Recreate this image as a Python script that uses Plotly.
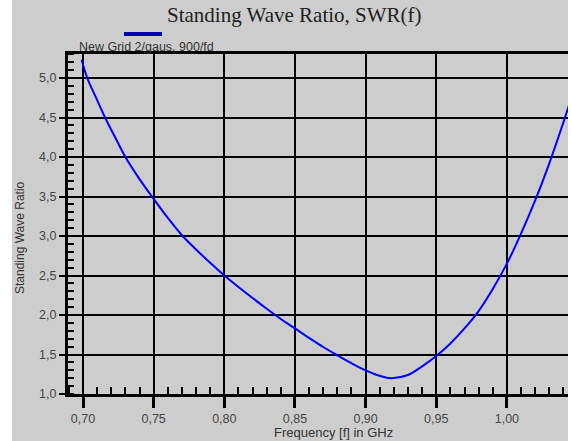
import plotly.graph_objects as go

# Data
freq = [0.6990, 0.7030, 0.7090, 0.7156, 0.7230, 0.7300, 0.7400, 0.7500, 0.7600,
        0.7700, 0.7800, 0.7900, 0.8000, 0.8100, 0.8200, 0.8300, 0.8400, 0.8500,
        0.8600, 0.8700, 0.8800, 0.8900, 0.9000, 0.9100, 0.9180, 0.9300, 0.9400,
        0.9500, 0.9600, 0.9700, 0.9800, 0.9900, 1.0000, 1.0100, 1.0200, 1.0300,
        1.0400, 1.0440]
swr = [5.23, 5.00, 4.76, 4.50, 4.24, 4.00, 3.72, 3.47, 3.23,
       3.01, 2.83, 2.66, 2.50, 2.355, 2.215, 2.08, 1.95, 1.83,
       1.71, 1.595, 1.49, 1.39, 1.30, 1.23, 1.20, 1.24, 1.35,
       1.48, 1.64, 1.83, 2.05, 2.33, 2.65, 3.03, 3.45, 3.92,
       4.44, 4.66]
x_ticks = [0.70, 0.75, 0.80, 0.85, 0.90, 0.95, 1.00]
y_ticks = [1.0, 1.5, 2.0, 2.5, 3.0, 3.5, 4.0, 4.5, 5.0]
series_name = "New Grid 2/gaus, 900/fd"
title_text = "Standing Wave Ratio, SWR(f)"
x_title = "Frequency [f] in GHz"
y_title = "Standing Wave Ratio"

W, H = 571, 441
L, R, T, B = 68, 3, 54, 47
pw, ph = W - L - R, H - T - B

def px(xp):
    return (xp - L) / pw

def py(yp):
    return (H - B - yp) / ph

fig = go.Figure()
fig.add_trace(go.Scatter(x=freq, y=swr, mode="lines", name=series_name,
                         line=dict(color="#0000ff", width=2, shape="spline", smoothing=1),
                         showlegend=False))

tickfont = dict(family="Liberation Sans, Arial", size=12.5, color="#444")

fig.update_layout(
    width=W, height=H,
    margin=dict(l=L, r=R, t=T, b=B),
    paper_bgcolor="white",
    plot_bgcolor="white",
    separators=",.",
    xaxis=dict(
        range=[0.70 + (L - 83) / 1413, 0.70 + (W - R - 83) / 1413],
        tickvals=x_ticks, tickformat=".2f", tickfont=tickfont,
        ticks="outside", ticklen=11, tickwidth=3, tickcolor="black",
        showgrid=True, gridcolor="black", gridwidth=2,
        showline=True, linecolor="black", linewidth=3, mirror=True,
        zeroline=False,
        minor=dict(dtick=0.01, tick0=0.70, ticks="inside", ticklen=7,
                   tickwidth=2, tickcolor="black", showgrid=False),
    ),
    yaxis=dict(
        range=[1.0, 1.0 + (H - B - T) / 79],
        tickvals=y_ticks, tickformat=".1f", tickfont=tickfont,
        ticks="outside", ticklen=6, tickwidth=2, tickcolor="black",
        showgrid=True, gridcolor="black", gridwidth=2,
        showline=True, linecolor="black", linewidth=3, mirror=False,
        zeroline=False,
        minor=dict(dtick=0.1, tick0=1.0, ticks="inside", ticklen=6,
                   tickwidth=2, tickcolor="black", showgrid=False),
    ),
    shapes=[
        dict(type="rect", xref="paper", yref="paper", layer="below",
             x0=px(12), x1=px(568), y0=-0.3, y1=1.3,
             fillcolor="#cdcdcd", line=dict(width=0)),
        dict(type="line", xref="paper", yref="paper",
             x0=px(124), x1=px(162), y0=py(34), y1=py(34),
             line=dict(color="#0000b0", width=4)),
    ],
    annotations=[
        dict(text=title_text, xref="paper", yref="paper", x=px(294), y=py(15),
             showarrow=False, xanchor="center", yanchor="middle",
             font=dict(family="Liberation Serif, Times New Roman", size=21, color="#222")),
        dict(text=series_name, xref="paper", yref="paper", x=px(77), y=py(47),
             showarrow=False, xanchor="left", yanchor="middle",
             font=dict(family="Liberation Sans, Arial", size=12.5, color="#333")),
        dict(text=x_title, xref="paper", yref="paper", x=px(333), y=py(432),
             showarrow=False, xanchor="center", yanchor="middle",
             font=dict(family="Liberation Sans, Arial", size=13, color="#333")),
        dict(text=y_title, xref="paper", yref="paper", x=px(20), y=py(238),
             showarrow=False, xanchor="center", yanchor="middle", textangle=-90,
             font=dict(family="Liberation Sans, Arial", size=12, color="#333")),
    ],
)

fig.write_html("out.html")
